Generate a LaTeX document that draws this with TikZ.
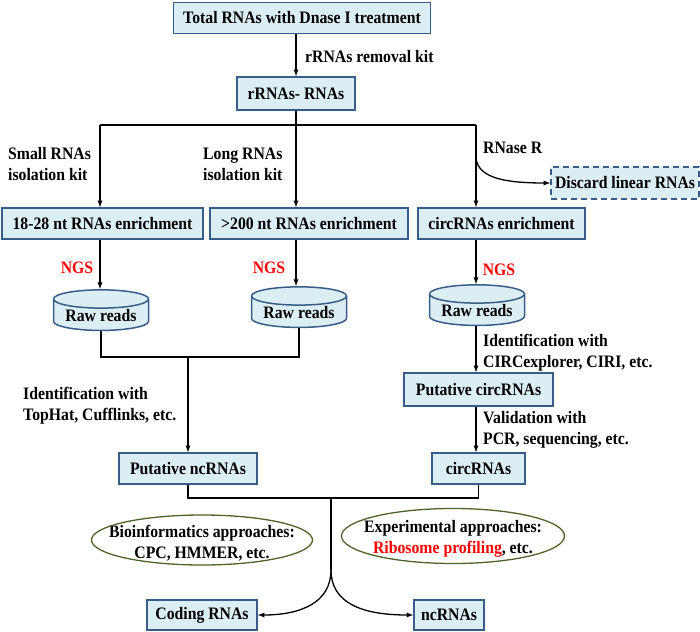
\documentclass[tikz,border=0pt]{standalone}
\usepackage{fontspec}
\setmainfont{Liberation Serif}[FakeStretch=0.9]
\usetikzlibrary{shapes.geometric}

\definecolor{boxfill}{RGB}{219,238,244}
\definecolor{boxline}{RGB}{56,93,138}
\definecolor{ellline}{RGB}{79,98,40}

\tikzset{
    txt/.style={font=\bfseries\fontsize{17.5}{21}\selectfont},
    rnabox/.style={txt, draw=boxline, fill=boxfill, line width=1.5pt,
        minimum height=31pt, inner sep=1pt},
    readsdb/.style={txt, cylinder, shape border rotate=90, aspect=0.25,
        draw=boxline, fill=boxfill, line width=1.5pt,
        minimum width=95pt, minimum height=31pt, inner sep=1pt},
    note/.style={txt, anchor=west, align=left, inner sep=0pt},
    ngs/.style={txt, text=red, inner sep=0pt},
    approach/.style={draw=ellline, line width=1.3pt},
    flow/.style={->, line width=1.3pt},
    link/.style={line width=1.3pt},
}

\begin{document}
\begin{tikzpicture}[x=1pt, y=-1pt, >=latex]
    \useasboundingbox (0,0) rectangle (700,631);

    % Top
    \node[rnabox, minimum width=257pt] (total) at (302,18) {Total RNAs with Dnase I treatment};
    \node[rnabox, minimum width=118pt, minimum height=33pt] (rrna) at (296,93.5) {rRNAs- RNAs};
    \draw[flow] (rrna.north |- total.south) -- (rrna.north);
    \node[note] (removal) at (305,57) {rRNAs removal kit};

    % Split
    \coordinate (splitA) at (100,125);
    \coordinate (splitB) at (296,125);
    \coordinate (splitC) at (476,125);
    \coordinate (rnaseR) at (476,158);
    \draw[link] (rrna.south) -- (splitB);
    \draw[link] (splitA) -- (splitC);

    % Enrichment
    \node[rnabox, minimum width=201pt] (small) at (102.5,223.5) {18-28 nt RNAs enrichment};
    \node[rnabox, minimum width=198pt] (long) at (309,223.5) {>200 nt RNAs enrichment};
    \node[rnabox, minimum width=167pt] (circ) at (501.5,223.5) {circRNAs enrichment};
    \node[rnabox, dash pattern=on 6pt off 4pt, minimum width=148pt, minimum height=32pt] (discard) at (625,183) {Discard linear RNAs};

    \draw[flow] (splitA) -- (splitA |- small.north);
    \draw[flow] (splitB) -- (splitB |- long.north);
    \draw[flow] (splitC) -- (splitC |- circ.north);
    \draw[flow] (rnaseR) .. controls (478,178) and (505,183) .. (discard.west);

    \node[note] (smallkit) at (8,164) {Small RNAs\\isolation kit};
    \node[note] (longkit) at (203,164) {Long RNAs\\isolation kit};
    \node[note] (rnase) at (483,148) {RNase R};

    % Sequencing
    \node[readsdb] (raw1) at (101,316) {Raw reads};
    \node[readsdb] (raw2) at (299,313) {Raw reads};
    \node[readsdb] (raw3) at (477,311) {Raw reads};

    \draw[flow] (splitA |- small.south) -- (splitA |- raw1.north);
    \draw[flow] (splitB |- long.south) -- (splitB |- raw2.north);
    \draw[flow] (splitC |- circ.south) -- (splitC |- raw3.north);

    \node[ngs] (ngs1) at (77,268) {NGS};
    \node[ngs] (ngs2) at (269,268) {NGS};
    \node[ngs] (ngs3) at (499,270) {NGS};

    % Identification
    \coordinate (joinL) at (188,357);
    \node[rnabox, minimum width=138pt] (pnc) at (188,468.5) {Putative ncRNAs};
    \node[rnabox, minimum width=149pt, minimum height=33pt] (pcirc) at (478.5,389.5) {Putative circRNAs};
    \node[rnabox, minimum width=93pt] (circrna) at (478.5,468.5) {circRNAs};

    \draw[link] (raw1.south) |- (raw2.south |- joinL) -- (raw2.south);
    \draw[flow] (joinL) -- (pnc.north);
    \draw[flow] (splitC |- raw3.south) -- (splitC |- pcirc.north);
    \draw[flow] (splitC |- pcirc.south) -- (splitC |- circrna.north);

    \node[note] (idtop) at (23,405.5) {Identification with\\TopHat, Cufflinks, etc.};
    \node[note] (idcirc) at (483,352.5) {Identification with\\CIRCexplorer, CIRI, etc.};
    \node[note] (valid) at (483,429.5) {Validation with\\PCR, sequencing, etc.};

    % Coding potential
    \coordinate (joinB) at (331,498);
    \coordinate (fork) at (331,570);
    \node[rnabox, minimum width=110pt, minimum height=30pt] (coding) at (202,615) {Coding RNAs};
    \node[rnabox, minimum width=70pt, minimum height=30pt] (ncrna) at (449,615) {ncRNAs};

    \draw[link] (pnc.south) |- (circrna.south |- joinB) -- (circrna.south);
    \draw[link] (joinB) -- (fork);
    \draw[flow] (fork) .. controls (331,603) and (300,615) .. (coding.east);
    \draw[flow] (fork) .. controls (331,603) and (362,615) .. (ncrna.west);

    \node[txt, align=center, inner sep=0pt] (bioinfo) at (202,543) {Bioinformatics approaches:\\CPC, HMMER, etc.};
    \draw[approach] (202,540) ellipse [x radius=110.5, y radius=25];
    \node[txt, align=center, inner sep=0pt] (expt) at (453,539) {Experimental approaches:\\\textcolor{red}{Ribosome profiling}, etc.};
    \draw[approach] (453,536) ellipse [x radius=111.5, y radius=27.5];
\end{tikzpicture}
\end{document}
